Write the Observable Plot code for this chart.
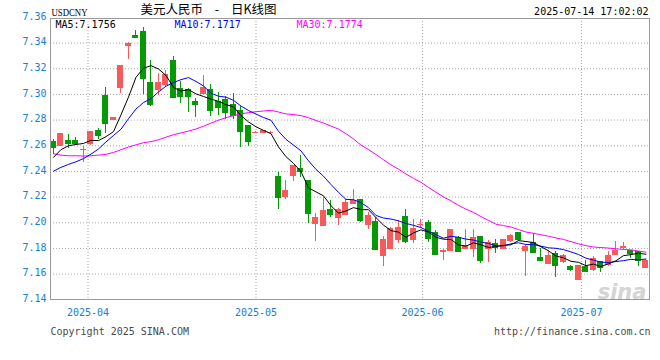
<!DOCTYPE html>
<html><head><meta charset="utf-8">
<script src="https://cdn.jsdelivr.net/npm/d3@7"></script>
<script src="https://cdn.jsdelivr.net/npm/@observablehq/plot@0.6"></script>
<style>
html,body{margin:0;padding:0;background:#fff;}
#chart{width:660px;height:360px;}
</style></head><body><div id="chart"></div>
<script>
// ---- data (USDCNY daily candles, 2025-03-25 .. 2025-07-14) ----
const openP = [7.2630,7.2595,7.2642,7.2639,7.2566,7.2608,7.2720,7.2990,7.2797,7.3044,
7.3374,7.3457,7.3491,7.3094,7.3031,7.3073,7.3262,7.3049,7.3036,7.2945,
7.3001,7.3040,7.2946,7.2959,7.2923,7.2877,7.2755,7.2704,7.2696,7.2705,
7.2359,7.2196,7.2359,7.2424,7.2326,7.1984,7.1971,7.2100,7.2033,7.2057,
7.2143,7.2182,7.1979,7.2010,7.1740,7.1792,7.1862,7.2049,7.1862,7.1986,
7.2005,7.1927,7.1766,7.1779,7.1883,7.1792,7.1792,7.1894,7.1792,7.1842,
7.1792,7.1852,7.1922,7.1774,7.1844,7.1730,7.1678,7.1761,7.1688,7.1657,
7.1553,7.1657,7.1626,7.1696,7.1670,7.1748,7.1800,7.1782,7.1774,7.1644];
const highP = [7.2645,7.2695,7.2686,7.2668,7.2595,7.2712,7.2738,7.3052,7.2820,7.3228,
7.3402,7.3499,7.3525,7.3265,7.3166,7.3187,7.3296,7.3101,7.3049,7.2972,
7.3148,7.3078,7.3016,7.2985,7.3006,7.2908,7.2757,7.2715,7.2720,7.2715,
7.2390,7.2333,7.2450,7.2525,7.2330,7.2070,7.2196,7.2173,7.2110,7.2183,
7.2257,7.2184,7.2083,7.2044,7.1894,7.1962,7.2018,7.2101,7.2023,7.2023,
7.2018,7.1940,7.1788,7.1950,7.1894,7.1945,7.1945,7.1896,7.1862,7.1868,
7.1872,7.1906,7.1924,7.1820,7.1917,7.1800,7.1787,7.1774,7.1752,7.1670,
7.1670,7.1709,7.1740,7.1698,7.1774,7.1852,7.1844,7.1784,7.1776,7.1711];
const lowP = [7.2535,7.2592,7.2577,7.2600,7.2470,7.2605,7.2652,7.2699,7.2795,7.3005,
7.3270,7.3445,7.2997,7.2907,7.2990,7.3062,7.2975,7.2933,7.2860,7.2821,
7.2999,7.2830,7.2838,7.2804,7.2804,7.2584,7.2597,7.2696,7.2694,7.2697,
7.2101,7.2183,7.2320,7.2354,7.1992,7.1855,7.1969,7.2041,7.1979,7.2055,
7.2140,7.2005,7.1948,7.1784,7.1662,7.1790,7.1842,7.1842,7.1842,7.1961,
7.1849,7.1751,7.1707,7.1777,7.1777,7.1790,7.1727,7.1686,7.1694,7.1764,
7.1790,7.1850,7.1852,7.1579,7.1767,7.1702,7.1676,7.1571,7.1686,7.1618,
7.1550,7.1616,7.1618,7.1610,7.1657,7.1746,7.1787,7.1722,7.1657,7.1642];
const closeP = [7.2588,7.2692,7.2616,7.2621,7.2571,7.2709,7.2681,7.2772,7.2818,7.3226,
7.3400,7.3447,7.3127,7.2920,7.3094,7.3153,7.2977,7.2984,7.2984,7.2920,
7.3053,7.2877,7.2895,7.2856,7.2838,7.2708,7.2631,7.2707,7.2716,7.2707,
7.2196,7.2248,7.2447,7.2398,7.2070,7.2044,7.2093,7.2062,7.2106,7.2157,
7.2174,7.2018,7.2057,7.1792,7.1868,7.1959,7.1961,7.1857,7.1959,7.1989,
7.1875,7.1753,7.1785,7.1948,7.1779,7.1823,7.1883,7.1707,7.1849,7.1810,
7.1870,7.1904,7.1870,7.1818,7.1769,7.1704,7.1748,7.1665,7.1748,7.1636,
7.1665,7.1618,7.1722,7.1652,7.1748,7.1782,7.1818,7.1761,7.1704,7.1709];
const ma5 = [7.2510,7.2570,7.2600,7.2610,7.2618,7.2642,7.2640,7.2671,7.2710,7.2841,
7.2979,7.3133,7.3204,7.3224,7.3198,7.3148,7.3054,7.3026,7.3038,7.3004,
7.2984,7.2964,7.2946,7.2920,7.2904,7.2835,7.2786,7.2748,7.2720,7.2694,
7.2591,7.2515,7.2463,7.2399,7.2272,7.2241,7.2210,7.2133,7.2075,7.2092,
7.2118,7.2103,7.2102,7.2040,7.1982,7.1939,7.1927,7.1887,7.1921,7.1945,
7.1928,7.1887,7.1872,7.1870,7.1828,7.1818,7.1844,7.1828,7.1808,7.1814,
7.1824,7.1828,7.1861,7.1854,7.1846,7.1813,7.1782,7.1741,7.1727,7.1700,
7.1692,7.1666,7.1678,7.1659,7.1681,7.1704,7.1744,7.1752,7.1763,7.1755];
const ma10 = [7.2402,7.2432,7.2455,7.2475,7.2500,7.2535,7.2575,7.2630,7.2680,7.2729,
7.2811,7.2886,7.2937,7.2967,7.3019,7.3064,7.3093,7.3115,7.3131,7.3101,
7.3066,7.3009,7.2986,7.2979,7.2954,7.2909,7.2875,7.2847,7.2820,7.2799,
7.2713,7.2650,7.2605,7.2560,7.2483,7.2416,7.2363,7.2298,7.2237,7.2182,
7.2180,7.2157,7.2118,7.2057,7.2037,7.2029,7.2015,7.1995,7.1980,7.1963,
7.1934,7.1907,7.1880,7.1895,7.1887,7.1873,7.1865,7.1850,7.1839,7.1821,
7.1821,7.1836,7.1844,7.1831,7.1830,7.1818,7.1805,7.1801,7.1791,7.1773,
7.1753,7.1724,7.1709,7.1693,7.1691,7.1698,7.1705,7.1715,7.1711,7.1718];
const ma30 = [7.2538,7.2527,7.2522,7.2522,7.2520,7.2522,7.2527,7.2533,7.2548,7.2569,
7.2590,7.2607,7.2624,7.2632,7.2647,7.2667,7.2686,7.2700,7.2714,7.2731,
7.2752,7.2777,7.2799,7.2819,7.2835,7.2848,7.2858,7.2865,7.2871,7.2876,
7.2863,7.2848,7.2843,7.2835,7.2819,7.2797,7.2777,7.2753,7.2730,7.2694,
7.2653,7.2605,7.2570,7.2532,7.2491,7.2451,7.2418,7.2380,7.2346,7.2315,
7.2276,7.2238,7.2201,7.2171,7.2136,7.2106,7.2081,7.2048,7.2019,7.1989,
7.1978,7.1967,7.1947,7.1928,7.1918,7.1907,7.1895,7.1882,7.1870,7.1853,
7.1836,7.1822,7.1811,7.1807,7.1803,7.1797,7.1792,7.1789,7.1780,7.1771];
const yTicks = [7.14,7.16,7.18,7.20,7.22,7.24,7.26,7.28,7.30,7.32,7.34,7.36];
const monthPos = [4.6, 27, 49.2, 70.4];
const monthLabels = ["2025-04","2025-05","2025-06","2025-07"];
const symbol = "USDCNY";
const title = "美元人民币 - 日K线图";
const stamp = "2025-07-14 17:02:02";
const legendLabels = ["MA5:7.1756", "MA10:7.1717", "MA30:7.1774"];
const legendColors = ["#000000", "#0000ff", "#ff00ff"];
const copyright = "Copyright 2025 SINA.COM";
const site = "http://finance.sina.com.cn";

// ---- build ----
const upColor = "#f65a5a", downColor = "#059a05", axisBlue = "#1480d0", gridColor = "#a9a9a9";
const candles = openP.map((o, i) => ({i, open: o, high: highP[i], low: lowP[i], close: closeP[i]}));
const ups = candles.filter(d => d.close >= d.open);
const downs = candles.filter(d => d.close < d.open);
const series = arr => arr.map((v, i) => ({i, v}));
const hw = 0.4;
const mono = "DejaVu Sans Mono";
const legendOffsets = [5, 124, 246];

function candleMarks(rows, color) {
  return [
    Plot.ruleX(rows, {x: "i", y1: "low", y2: "high", stroke: color, shapeRendering: "crispEdges"}),
    Plot.rect(rows, {x1: d => d.i - hw, x2: d => d.i + hw, y1: "open", y2: "close", fill: color, shapeRendering: "crispEdges"}),
    Plot.ruleY(rows, {y: "close", x1: d => d.i - hw, x2: d => d.i + hw, stroke: color, shapeRendering: "crispEdges"})
  ];
}

const legendMarks = legendLabels.map((lab, k) =>
  Plot.text([lab], {frameAnchor: "top-left", textAnchor: "start", lineAnchor: "middle",
    dx: legendOffsets[k], dy: 6, text: d => d, fill: legendColors[k], fontFamily: mono, fontSize: 10}));

const chart = Plot.plot({
  width: 660, height: 360,
  marginLeft: 50, marginRight: 11, marginTop: 18, marginBottom: 61,
  style: {fontFamily: mono, fontSize: "10px", background: "#fff", overflow: "visible"},
  x: {domain: [-0.4, 79.47], axis: null},
  y: {domain: [7.14, 7.36], range: [299.3, 16.9], axis: null},
  marks: [
    Plot.ruleY(yTicks.filter(t => t > 7.145 && t < 7.355), {y: d => d, stroke: gridColor, strokeDasharray: "1,2"}),
    Plot.ruleX(monthPos, {x: d => d, stroke: gridColor, strokeDasharray: "1,2"}),
    ...candleMarks(ups, upColor),
    ...candleMarks(downs, downColor),
    Plot.line(series(ma30), {x: "i", y: "v", stroke: "#ff00ff", strokeWidth: 1}),
    Plot.line(series(ma10), {x: "i", y: "v", stroke: "#0000ff", strokeWidth: 1}),
    Plot.line(series(ma5), {x: "i", y: "v", stroke: "#000000", strokeWidth: 1}),
    Plot.frame({stroke: "#999999"}),
    Plot.text(yTicks, {y: d => d, frameAnchor: "left", textAnchor: "end", dx: -4, dy: -1,
      text: d => d.toFixed(2), fill: axisBlue, fontFamily: mono, fontSize: 10}),
    Plot.text(monthPos, {x: d => d, frameAnchor: "bottom", dy: 13, lineAnchor: "middle",
      text: (d, i) => monthLabels[i], fill: axisBlue, fontFamily: mono, fontSize: 10}),
    Plot.text([symbol], {frameAnchor: "top-left", textAnchor: "start", lineAnchor: "middle", dx: 1, dy: -6.5,
      text: d => d, fill: "#000", fontFamily: "Liberation Serif", fontSize: 11, className: "hdr-sym"}),
    Plot.text([title], {frameAnchor: "top-left", textAnchor: "start", lineAnchor: "middle", dx: 90, dy: -8.5,
      text: d => d, fill: "#000", fontFamily: "Noto Sans CJK SC", fontSize: 12.5, className: "hdr-title"}),
    Plot.text([stamp], {frameAnchor: "top-right", textAnchor: "end", lineAnchor: "middle", dx: -1, dy: -6.5,
      text: d => d, fill: "#000", fontFamily: mono, fontSize: 10}),
    ...legendMarks,
    Plot.text(["sina"], {frameAnchor: "bottom-right", textAnchor: "end", lineAnchor: "bottom", dx: -3, dy: -1,
      text: d => d, fill: "#d4d4d4", fontFamily: "DejaVu Sans", fontWeight: "bold", fontStyle: "italic", fontSize: 21}),
    Plot.text([copyright], {frameAnchor: "bottom-left", textAnchor: "start", lineAnchor: "middle", dy: 32.5,
      text: d => d, fill: "#4a4a4a", fontFamily: mono, fontSize: 10}),
    Plot.text([site], {frameAnchor: "bottom-right", textAnchor: "end", lineAnchor: "middle", dx: 1, dy: 32.5,
      text: d => d, fill: "#4a4a4a", fontFamily: mono, fontSize: 10})
  ]
});
document.getElementById("chart").appendChild(chart);
const svg = d3.select(chart);
svg.selectAll(".hdr-sym text").attr("textLength", 36).attr("lengthAdjust", "spacingAndGlyphs");
svg.selectAll(".hdr-title text").attr("word-spacing", "9");
</script>
</body></html>
